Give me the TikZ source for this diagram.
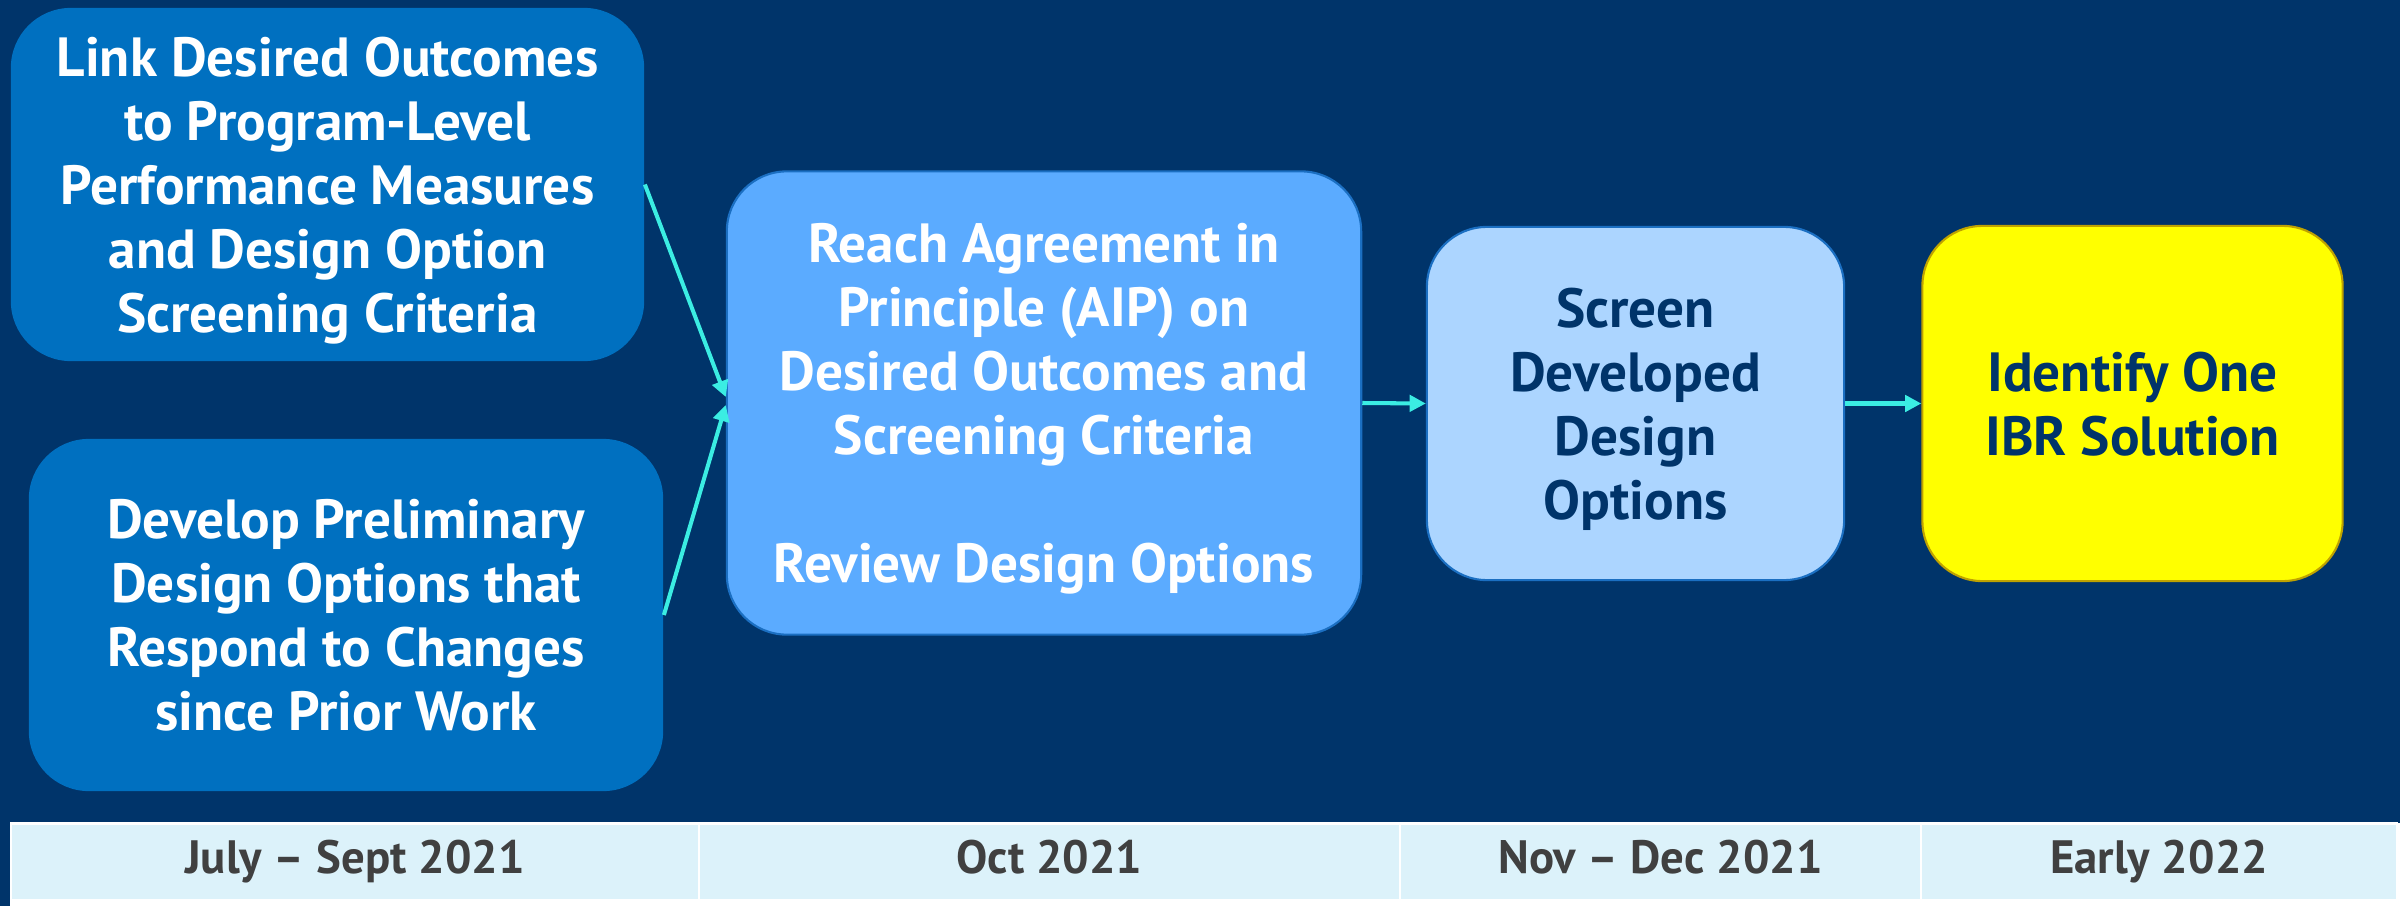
\documentclass[tikz,border=0pt]{standalone}
\usepackage{fontspec}
\setmainfont{PT Sans}
\usetikzlibrary{arrows.meta,positioning}
\definecolor{navy}{HTML}{00346A}
\definecolor{midblue}{HTML}{0070C0}
\definecolor{aipblue}{HTML}{5BABFF}
\definecolor{aipborder}{HTML}{1B6FC2}
\definecolor{paleblue}{HTML}{ACD5FF}
\definecolor{yellowborder}{HTML}{BFA200}
\definecolor{barfill}{HTML}{DCF2FA}
\definecolor{bartext}{HTML}{404040}
\definecolor{arrowcyan}{HTML}{3BEDE3}
\definecolor{pureyellow}{HTML}{FFFF00}
\tikzset{
  px/.style={x=0.01cm,y=-0.01cm},
  stagebox/.style={rounded corners=0.6cm, inner sep=0pt, align=center,
    text depth=0pt, font=\fontsize{15.7}{18.2}\selectfont\bfseries},
  leftbox/.style={stagebox, fill=midblue, text=white},
  flowarrow/.style={draw=arrowcyan, line width=1.15pt,
    -{Triangle[length=4.6pt,width=4.6pt]}},
  barcell/.style={fill=barfill, draw=white, line width=0.6pt, inner sep=0pt,
    text height=6.6pt, text depth=0pt,
    text=bartext, font=\fontsize{13.3}{16}\selectfont\bfseries}
}
\begin{document}
\begin{tikzpicture}[px]
\useasboundingbox (0,0) rectangle (2400,906);
\fill[navy] (0,0) rectangle (2400,906);
\fill[white] (10,823) rectangle (2400,906);

\node[leftbox, minimum width=6.33cm, minimum height=3.53cm] (link) at (327.5,184.5)
  {Link Desired Outcomes\\to Program-Level\\Performance Measures\\and Design Option\\Screening Criteria};
\node[leftbox, minimum width=6.34cm, minimum height=3.52cm] (dev) at (346,615)
  {Develop Preliminary\\Design Options that\\Respond to Changes\\since Prior Work};
\node[stagebox, fill=aipblue, draw=aipborder, line width=0.6pt, text=white,
  minimum width=6.34cm, minimum height=4.63cm] (aip) at (1044,403)
  {Reach Agreement in\\Principle (AIP) on\\Desired Outcomes and\\Screening Criteria\\[18.2pt]Review Design Options};
\node[stagebox, fill=paleblue, draw=aipborder, line width=0.6pt, text=navy,
  minimum width=4.17cm, minimum height=3.53cm] (screen) at (1635.5,403.5)
  {Screen\\Developed\\Design\\Options};
\node[stagebox, fill=pureyellow, draw=yellowborder, line width=0.6pt, text=navy,
  minimum width=4.2cm, minimum height=3.55cm] (ibr) at (2132.5,403.5)
  {Identify One\\IBR Solution};

\draw[flowarrow] (link.east) -- ([yshift=0.06cm]aip.west);
\draw[flowarrow] (dev.east) -- ([yshift=-0.02cm]aip.west);
\draw[flowarrow] (aip.east) -- (screen.west);
\draw[flowarrow] (screen.east) -- (ibr.west);

\node[barcell, minimum width=6.88cm, minimum height=0.77cm] (c1) at (355,862) {July – Sept 2021};
\node[barcell, minimum width=7.01cm, minimum height=0.77cm] (c2) at (1049.5,862) {Oct 2021};
\node[barcell, minimum width=5.21cm, minimum height=0.77cm] (c3) at (1660.5,862) {Nov – Dec 2021};
\node[barcell, minimum width=4.76cm, minimum height=0.77cm] (c4) at (2159,862) {Early 2022};
\end{tikzpicture}
\end{document}
